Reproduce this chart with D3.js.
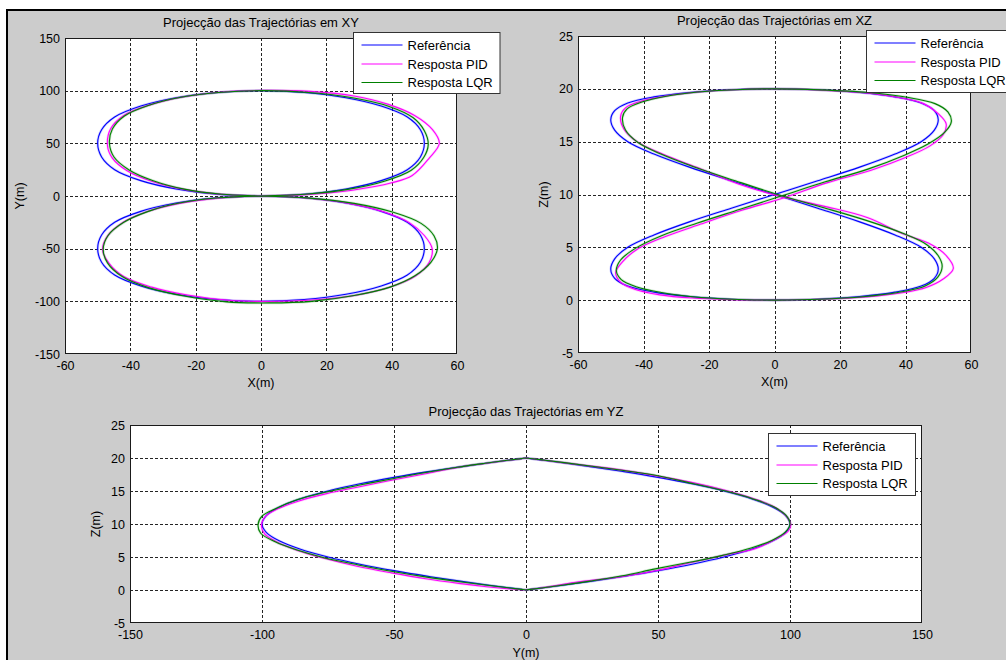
<!DOCTYPE html>
<html>
<head>
<meta charset="utf-8">
<script src="https://cdn.jsdelivr.net/npm/d3@7"></script>
<style>
  html, body { margin: 0; padding: 0; background: #ffffff; }
  svg text { font-family: "Liberation Sans", Arial, Helvetica, sans-serif; fill: #000; }
</style>
</head>
<body>
<svg id="fig" width="1006" height="660"></svg>
<script>
// Series shown in every projection
const seriesNames  = ["Referência", "Resposta PID", "Resposta LQR"];
const seriesColors = ["#0000ff", "#ff00ff", "#008000"];

// 3-D trajectories (m): upper loop followed by lower loop
const refX = [0, 13.2, 26, 36.8, 44.8, 48.8, 50, 48.8, 44.8, 36.8, 26, 13.2, 0, -13.2, -26, -36.8, -44.8, -48.8, -50, -48.8, -44.8, -36.8, -26, -13.2, 0,
              13.2, 26, 36.8, 44.8, 48.8, 50, 48.8, 44.8, 36.8, 26, 13.2, 0, -13.2, -26, -36.8, -44.8, -48.8, -50, -48.8, -44.8, -36.8, -26, -13.2, 0];
const refY = [0, 1.7, 6.7, 14.6, 25, 37.1, 50, 62.9, 75, 85.4, 93.3, 98.3, 100, 98.3, 93.3, 85.4, 75, 62.9, 50, 37.1, 25, 14.6, 6.7, 1.7, 0,
              -1.7, -6.7, -14.6, -25, -37.1, -50, -62.9, -75, -85.4, -93.3, -98.3, -100, -98.3, -93.3, -85.4, -75, -62.9, -50, -37.1, -25, -14.6, -6.7, -1.7, 0];
const refZ = [0, 0.09, 0.34, 0.76, 1.34, 2.07, 2.93, 3.91, 5, 6.17, 7.41, 8.7, 10, 11.3, 12.59, 13.83, 15, 16.09, 17.07, 17.93, 18.66, 19.24, 19.66, 19.91, 20,
              19.91, 19.66, 19.24, 18.66, 17.93, 17.07, 16.09, 15, 13.83, 12.59, 11.3, 10, 8.7, 7.41, 6.17, 5, 3.91, 2.93, 2.07, 1.34, 0.76, 0.34, 0.09, 0];

const pidX = [0, 13.5, 28, 40, 46.3, 51.5, 54.6, 52.5, 47, 39, 28.5, 15, 2, -11, -24, -34, -42, -46, -47, -45.5, -41, -33.5, -23.5, -12, 0,
              13, 26.5, 37.5, 45.5, 50, 52.4, 51.5, 47.5, 40, 29.5, 16, 3, -10, -22.5, -33.5, -42, -46.5, -48.5, -47, -42.5, -35, -25, -12.5, 0];
const pidY = [0, 1.3, 5.5, 12.5, 19.5, 36, 50, 63, 76.5, 87, 95, 99.3, 100.3, 99, 94, 86.5, 76.5, 64, 48, 36, 24, 14, 6.3, 1.6, 0,
              -1.7, -6.8, -15, -25.5, -37.5, -50, -63, -75.5, -86, -94, -98.8, -100.2, -99, -94, -86.5, -76.5, -64, -51, -38, -25.5, -15, -7, -1.8, 0];
const pidZ = [0, 0.08, 0.3, 0.75, 1.2, 2.0, 3.0, 4.2, 5.4, 6.3, 7.8, 8.9, 9.8, 11.0, 12.6, 13.8, 15.0, 16.2, 17.4, 18.2, 18.8, 19.3, 19.7, 19.92, 20,
              19.9, 19.65, 19.2, 18.6, 17.65, 16.7, 15.65, 14.6, 13.5, 12.3, 11.1, 9.7, 8.5, 7.2, 6.0, 4.8, 3.6, 2.6, 1.7, 1.0, 0.5, 0.2, 0.05, 0];

const lqrX = [0, 13.5, 27, 38, 46, 49.8, 51.2, 50, 46.5, 39, 28, 14.5, 1, -12, -24.5, -34.5, -41.8, -45.5, -46.4, -45, -40.5, -33, -23.5, -12, 0,
              14, 28.5, 40.5, 49, 53, 54, 52, 47, 39.5, 28.5, 15.5, 2.5, -10.5, -23.5, -34.5, -42.5, -47, -48.3, -46.8, -42, -34.5, -25, -12.8, 0];
const lqrY = [0, 1.6, 6.5, 14.3, 24.5, 36.5, 49, 62, 74.5, 85.3, 93.3, 98.3, 100, 98.5, 93.8, 86, 76, 63.5, 50, 37, 25, 14.5, 6.5, 1.6, 0,
              -1.8, -7, -15.5, -26, -38, -50, -63, -76, -86.5, -94.5, -100, -101.5, -100.5, -95, -87, -76.5, -63.5, -50.5, -37.5, -25, -14.6, -6.7, -1.7, 0];
const lqrZ = [0, 0.09, 0.33, 0.75, 1.35, 2.15, 3.2, 4.2, 5.25, 6.35, 7.55, 8.8, 10, 11.3, 12.6, 13.8, 14.95, 16.1, 17.3, 18.1, 18.75, 19.3, 19.7, 19.92, 20,
              19.9, 19.65, 19.2, 18.6, 17.8, 16.9, 15.9, 14.8, 13.7, 12.4, 11.2, 9.9, 8.6, 7.3, 6.1, 4.9, 3.8, 2.8, 1.95, 1.25, 0.72, 0.33, 0.09, 0];

// Tick values
const ticksX   = [-60, -40, -20, 0, 20, 40, 60];
const ticksYxy = [-150, -100, -50, 0, 50, 100, 150];
const ticksZ   = [-5, 0, 5, 10, 15, 20, 25];
const ticksYyz = [-150, -100, -50, 0, 50, 100, 150];

const coords = [
  { X: refX, Y: refY, Z: refZ },
  { X: pidX, Y: pidY, Z: pidZ },
  { X: lqrX, Y: lqrY, Z: lqrZ }
];

// Panel layout
const panels = [
  { title: "Projecção das Trajectórias em XY", h: "X", v: "Y",
    hDomain: [-60, 60], vDomain: [-150, 150], hTicks: ticksX, vTicks: ticksYxy,
    left: 65, top: 38, right: 457, bottom: 354,
    hLabel: "X(m)", vLabel: "Y(m)", titleY: 27, hLabelY: 387, vLabelX: 19.5,
    legend: { x: 353.5, y: 32.5, w: 146.5, h: 61 } },
  { title: "Projecção das Trajectórias em XZ", h: "X", v: "Z",
    hDomain: [-60, 60], vDomain: [-5, 25], hTicks: ticksX, vTicks: ticksZ,
    left: 578, top: 36, right: 971, bottom: 353,
    hLabel: "X(m)", vLabel: "Z(m)", titleY: 25, hLabelY: 386, vLabelX: 543.5,
    legend: { x: 866.5, y: 30.5, w: 147, h: 62 } },
  { title: "Projecção das Trajectórias em YZ", h: "Y", v: "Z",
    hDomain: [-150, 150], vDomain: [-5, 25], hTicks: ticksYyz, vTicks: ticksZ,
    left: 130, top: 425, right: 922, bottom: 623,
    hLabel: "Y(m)", vLabel: "Z(m)", titleY: 416, hLabelY: 657, vLabelX: 96,
    legend: { x: 768.5, y: 433.5, w: 147, h: 62 } }
];

const svg = d3.select("#fig");

// figure background and frame
svg.append("rect").attr("x", 0).attr("y", 0).attr("width", 1006).attr("height", 660).attr("fill", "#ffffff");
svg.append("rect").attr("x", 7).attr("y", 10).attr("width", 1006).attr("height", 660).attr("fill", "#cccccc");
svg.append("line").attr("x1", 7).attr("y1", 10).attr("x2", 1006).attr("y2", 10)
   .attr("stroke", "#000").attr("stroke-width", 2);
svg.append("line").attr("x1", 7).attr("y1", 9).attr("x2", 7).attr("y2", 660)
   .attr("stroke", "#000").attr("stroke-width", 2);

const fmt = d => String(d);

panels.forEach((p, pi) => {
  const g = svg.append("g");
  const sx = d3.scaleLinear().domain(p.hDomain).range([p.left, p.right]);
  const sy = d3.scaleLinear().domain(p.vDomain).range([p.bottom, p.top]);

  const clipId = "clip" + pi;
  g.append("clipPath").attr("id", clipId).append("rect")
    .attr("x", p.left).attr("y", p.top).attr("width", p.right - p.left).attr("height", p.bottom - p.top);

  // plot area
  g.append("rect").attr("x", p.left).attr("y", p.top)
    .attr("width", p.right - p.left).attr("height", p.bottom - p.top).attr("fill", "#ffffff");

  // dotted grid
  const grid = g.append("g").attr("stroke", "#000").attr("stroke-width", 1)
    .attr("stroke-dasharray", "3,2").attr("shape-rendering", "crispEdges").attr("opacity", 0.85);
  p.hTicks.slice(1, -1).forEach(t => {
    grid.append("line").attr("x1", Math.round(sx(t)) + 0.5).attr("x2", Math.round(sx(t)) + 0.5)
      .attr("y1", p.top).attr("y2", p.bottom);
  });
  p.vTicks.slice(1, -1).forEach(t => {
    grid.append("line").attr("y1", Math.round(sy(t)) + 0.5).attr("y2", Math.round(sy(t)) + 0.5)
      .attr("x1", p.left).attr("x2", p.right);
  });

  // trajectories
  const line = d3.line()
    .x(d => sx(d[0])).y(d => sy(d[1]))
    .curve(d3.curveCatmullRom.alpha(0.5));
  const curves = g.append("g").attr("clip-path", "url(#" + clipId + ")");
  coords.forEach((c, si) => {
    const pts = c[p.h].map((v, k) => [v, c[p.v][k]]);
    curves.append("path").attr("d", line(pts))
      .attr("fill", "none").attr("stroke", seriesColors[si])
      .attr("stroke-width", 2.6).attr("stroke-opacity", 0.18);
    curves.append("path").attr("d", line(pts))
      .attr("fill", "none").attr("stroke", seriesColors[si])
      .attr("stroke-width", 1.1);
  });

  // box
  g.append("rect").attr("x", p.left + 0.5).attr("y", p.top + 0.5)
    .attr("width", p.right - p.left - 1).attr("height", p.bottom - p.top - 1)
    .attr("fill", "none").attr("stroke", "#1a1a1a").attr("stroke-width", 1);

  // axes (labels only)
  const ax = g.append("g").attr("transform", `translate(0,${p.bottom})`)
    .call(d3.axisBottom(sx).tickValues(p.hTicks).tickFormat(fmt).tickSize(0).tickPadding(7));
  const ay = g.append("g").attr("transform", `translate(${p.left},0)`)
    .call(d3.axisLeft(sy).tickValues(p.vTicks).tickFormat(fmt).tickSize(0).tickPadding(5));
  [ax, ay].forEach(a => {
    a.select(".domain").remove();
    a.selectAll("text").attr("font-size", 12.5).attr("fill", "#000")
      .attr("font-family", "'Liberation Sans', Arial, sans-serif");
  });

  // titles and axis names
  g.append("text").attr("x", (p.left + p.right) / 2).attr("y", p.titleY)
    .attr("text-anchor", "middle").attr("font-size", 13).text(p.title);
  g.append("text").attr("x", (p.left + p.right) / 2).attr("y", p.hLabelY)
    .attr("text-anchor", "middle").attr("font-size", 12.5).text(p.hLabel);
  g.append("text").attr("transform", `translate(${p.vLabelX},${(p.top + p.bottom) / 2}) rotate(-90)`)
    .attr("text-anchor", "middle").attr("dominant-baseline", "central")
    .attr("font-size", 12.5).text(p.vLabel);

  // legend
  const L = p.legend;
  const lg = g.append("g");
  lg.append("rect").attr("x", L.x).attr("y", L.y).attr("width", L.w).attr("height", L.h)
    .attr("fill", "#ffffff").attr("stroke", "#333").attr("stroke-width", 1);
  const rows = [12.5, 31.5, 50];
  seriesNames.forEach((name, si) => {
    const yy = L.y + rows[si];
    lg.append("line").attr("x1", L.x + 8).attr("x2", L.x + 49).attr("y1", yy).attr("y2", yy)
      .attr("stroke", seriesColors[si]).attr("stroke-width", 1.1);
    lg.append("text").attr("x", L.x + 54).attr("y", yy).attr("dominant-baseline", "central")
      .attr("font-size", 13).text(name);
  });
});
</script>
</body>
</html>
